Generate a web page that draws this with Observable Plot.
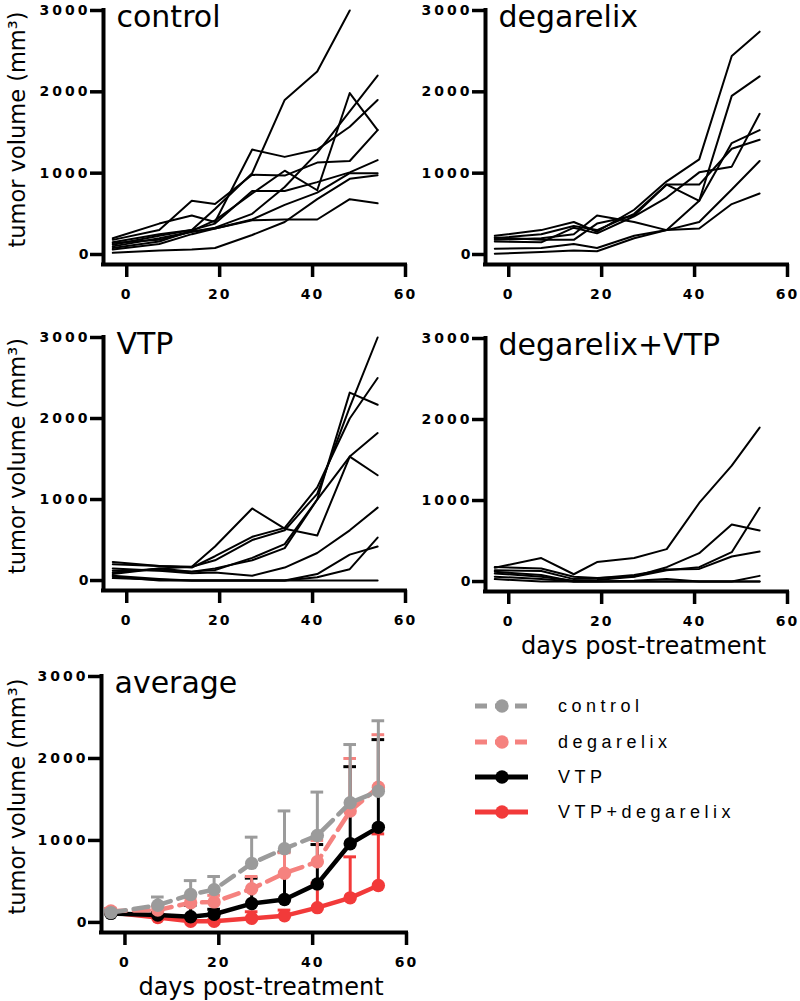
<!DOCTYPE html>
<html><head><meta charset="utf-8">
<script src="https://cdn.jsdelivr.net/npm/d3@7"></script>
<script src="https://cdn.jsdelivr.net/npm/@observablehq/plot@0.6"></script>
<style>
body{margin:0;background:#fff;}
#root{position:relative;width:800px;height:1001px;overflow:hidden;background:#fff;font-family:"DejaVu Sans",sans-serif;}
.pan{position:absolute;}
.pan svg{overflow:visible;background:transparent;}
.leg{position:absolute;left:470px;display:flex;align-items:center;height:20px;}
.leg span{font-family:"Liberation Sans",Arial,sans-serif;font-size:18px;letter-spacing:4.5px;margin-left:25px;line-height:20px;}
</style></head>
<body><div id="root"></div>
<script>
// ---------- data ----------
const days = [-3, 7, 14, 19, 27, 34, 41, 48, 54];
const yTicks = [0, 1000, 2000, 3000];
const xTicks = [0, 20, 40, 60];

const controlMice = [
  [150, 250, 300, 560, 1000, 1900, 2250, 3000, null],
  [200, 380, 480, 400, 1290, 1200, 1290, 1570, 1900],
  [100, 200, 280, 330, 500, 830, 1250, 1760, 2200],
  [80, 160, 290, 420, 750, 1030, 790, 1985, 1530],
  [180, 300, 660, 620, 980, 970, 1130, 1150, 1530],
  [120, 230, 300, 380, 780, 780, 890, 1010, 1160],
  [60, 130, 250, 320, 430, 610, 760, 1000, 1000],
  [20, 50, 60, 80, 240, 400, 680, 930, 975],
  [140, 180, 280, 320, 420, 430, 430, 680, 630]
];
const degarelixMice = [
  [230, 300, 400, 280, 550, 900, 1170, 2440, 2740],
  [200, 250, 350, 300, 500, 860, 660, 1950, 2190],
  [160, 150, 330, 260, 470, 700, 1010, 1080, 1730],
  [180, 200, 250, 480, 400, 300, 660, 1370, 1530],
  [210, 180, 180, 380, 480, 860, 860, 1300, 1410],
  [70, 80, 130, 80, 230, 300, 400, 800, 1150],
  [10, 30, 50, 40, 200, 300, 320, 620, 750]
];
const vtpMice = [
  [100, 150, 170, 250, 500, 620, 1070, 2140, 3000],
  [200, 180, 160, 300, 540, 650, 1150, 2000, 2500],
  [120, 130, 110, 130, 280, 450, 1000, 2320, 2170],
  [80, 150, 110, 150, 250, 400, 1000, 1530, 1820],
  [230, 180, 170, 420, 890, 640, 555, 1530, 1300],
  [150, 120, 90, 100, 60, 160, 340, 620, 900],
  [60, 20, 0, 0, 0, 0, 40, 140, 530],
  [30, 10, 0, 0, 0, 0, 80, 320, 420],
  [50, 0, 0, 0, 0, 0, 0, 0, 0]
];
const combMice = [
  [170, 290, 90, 240, 290, 400, 970, 1430, 1900],
  [100, 60, 10, 20, 60, 140, 177, 362, 910],
  [180, 160, 60, 45, 62, 177, 350, 704, 630],
  [140, 130, 30, 40, 80, 150, 156, 309, 370],
  [60, 30, 0, 0, 10, 30, 0, 0, 70],
  [30, 0, 0, 0, 0, 0, 0, 0, 0],
  [120, 80, 0, 0, 0, 0, 0, 0, 0]
];

const groupNames = ["control", "degarelix", "VTP", "VTP+degarelix"];
const meanControl   = [120, 210, 340, 400, 720, 900, 1060, 1460, 1600];
const upperControl  = [150, 310, 510, 560, 1040, 1360, 1590, 2170, 2460];
const meanDegarelix = [140, 150, 240, 250, 410, 600, 740, 1360, 1650];
const upperDegarelix= [170, 200, 300, 330, 560, 850, 1000, 2000, 2290];
const meanVTP       = [110, 90, 70, 100, 230, 280, 470, 960, 1160];
const upperVTP      = [140, 120, 210, 160, 540, 860, 950, 1900, 2230];
const meanComb      = [120, 60, 15, 15, 50, 80, 180, 300, 450];
const upperComb     = [140, 80, 30, 30, 130, 150, 480, 800, 1080];

// ---------- styles ----------
const groupColors = ["#9b9b9b", "#f5827f", "#000000", "#f23a3a"];
const groupDash = ["15,8", "15,8", null, null];

// ---------- helpers ----------
const root = document.getElementById("root");
function toRows(mice) {
  return mice.flatMap((vals, m) => vals.map((v, i) => ({mouse: m, day: days[i], vol: v})))
             .filter(d => d.vol != null);
}
function place(el, left, top) {
  const div = document.createElement("div");
  div.className = "pan";
  div.style.left = left + "px";
  div.style.top = top + "px";
  div.appendChild(el);
  root.appendChild(div);
}
function panel({box, frame, title, yLabel, xLabel, dataMarks}) {
  const [L, T, W, H] = box;
  const [fl, ft, fr, fb] = frame;
  const marks = [
    Plot.ruleX([-5], {y1: -123, y2: 3000, strokeWidth: 4, strokeLinecap: "square"}),
    Plot.ruleY([-123], {x1: -5, x2: 60, strokeWidth: 4, strokeLinecap: "square"}),
    Plot.axisY(yTicks, {tickSize: 13, tickPadding: 0, strokeWidth: 3.5, fontSize: 14, fontWeight: "bold", tickFormat: d => `${d}`, label: null}),
    Plot.axisX(xTicks, {tickSize: 13, tickPadding: 12, strokeWidth: 3.5, fontSize: 14, fontWeight: "bold", tickFormat: d => `${d}`, label: null, dx: 0}),
    ...dataMarks,
    Plot.text([title], {text: d => d, frameAnchor: "top-left", textAnchor: "start", lineAnchor: "top", dx: 13, dy: -4.5, fontSize: 30})
  ];
  if (yLabel) marks.push(Plot.text([yLabel], {text: d => d, y: () => 1500, frameAnchor: "left", textAnchor: "middle", rotate: -90, dx: 17 - fl, dy: -3, fontSize: 22.5}));
  if (xLabel) marks.push(Plot.text([xLabel], {text: d => d, frameAnchor: "bottom", textAnchor: "middle", lineAnchor: "top", dx: 7, dy: 45, fontSize: 24}));
  const p = Plot.plot({
    width: W, height: H,
    marginLeft: fl - L, marginRight: L + W - fr, marginTop: ft - T, marginBottom: T + H - fb,
    x: {domain: [-5, 60]},
    y: {domain: [-123, 3000]},
    style: {fontFamily: "DejaVu Sans", background: "transparent", color: "black", overflow: "visible"},
    marks
  });
  // spaced-out tick numerals, as in the reference
  d3.select(p).selectAll("text").filter(function() { return /^\d+$/.test(this.textContent); })
    .attr("letter-spacing", function() { return this.textContent.length <= 2 ? "2px" : "3px"; });
  place(p, L, T);
}
const miceLines = mice => [Plot.line(toRows(mice), {x: "day", y: "vol", z: "mouse", stroke: "black", strokeWidth: 2})];

// ---------- individual panels ----------
panel({box: [0, 0, 420, 300], frame: [103, 10, 405, 264], title: "control", yLabel: "tumor volume (mm³)", dataMarks: miceLines(controlMice)});
panel({box: [400, 0, 400, 300], frame: [485, 10, 787, 264], title: "degarelix", dataMarks: miceLines(degarelixMice)});
panel({box: [0, 300, 420, 340], frame: [103, 337, 405, 590], title: "VTP", yLabel: "tumor volume (mm³)", dataMarks: miceLines(vtpMice)});
panel({box: [400, 300, 400, 370], frame: [485, 338, 787, 591], title: "degarelix+VTP", xLabel: "days post-treatment", dataMarks: miceLines(combMice)});

// ---------- average panel ----------
const avgSets = [
  {g: 3, mean: meanComb, upper: upperComb},
  {g: 2, mean: meanVTP, upper: upperVTP},
  {g: 1, mean: meanDegarelix, upper: upperDegarelix},
  {g: 0, mean: meanControl, upper: upperControl}
];
const avgMarks = avgSets.flatMap(({g, mean, upper}) => {
  const rows = days.map((d, i) => ({day: d, mean: mean[i], upper: upper[i]}));
  const c = groupColors[g];
  return [
    Plot.line(rows, {x: "day", y: "mean", stroke: c, strokeWidth: 4.5, strokeDasharray: groupDash[g] || undefined}),
    Plot.ruleX(rows, {x: "day", y1: "mean", y2: "upper", stroke: c, strokeWidth: 3}),
    Plot.ruleY(rows, {y: "upper", x1: d => d.day - 1.35, x2: d => d.day + 1.35, stroke: c, strokeWidth: 3}),
    Plot.dot(rows, {x: "day", y: "mean", r: 6.7, fill: c, stroke: "none"})
  ];
});
panel({box: [0, 640, 420, 361], frame: [101, 676, 406, 932], title: "average", yLabel: "tumor volume (mm³)", xLabel: "days post-treatment", dataMarks: avgMarks});

// ---------- legend ----------
const legendRowY = [706, 742, 777, 812];
groupNames.forEach((name, g) => {
  const row = document.createElement("div");
  row.className = "leg";
  row.style.top = (legendRowY[g] - 10) + "px";
  const svg = d3.create("svg").attr("width", 63).attr("height", 20).style("overflow", "visible");
  svg.append("line").attr("x1", 5).attr("x2", 58).attr("y1", 10).attr("y2", 10)
     .attr("stroke", groupColors[g]).attr("stroke-width", 5)
     .attr("stroke-dasharray", groupDash[g] ? "12,8" : null);
  svg.append("circle").attr("cx", 32).attr("cy", 10).attr("r", 6.7).attr("fill", groupColors[g]);
  row.appendChild(svg.node());
  const span = document.createElement("span");
  span.textContent = name;
  row.appendChild(span);
  root.appendChild(row);
});
</script>
</body></html>
